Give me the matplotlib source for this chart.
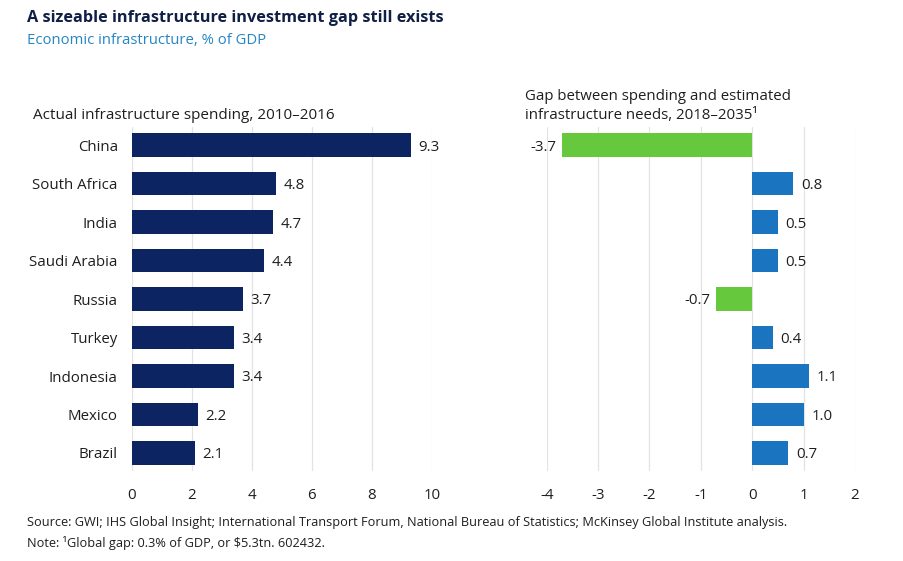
import matplotlib.pyplot as plt

countries = ["China", "South Africa", "India", "Saudi Arabia", "Russia",
             "Turkey", "Indonesia", "Mexico", "Brazil"]
spending = [9.3, 4.8, 4.7, 4.4, 3.7, 3.4, 3.4, 2.2, 2.1]
gap = [-3.7, 0.8, 0.5, 0.5, -0.7, 0.4, 1.1, 1.0, 0.7]

navy = "#0c2461"
blue = "#1a74bf"
green = "#66c83c"
grid_col = "#e3e3e3"
txt = "#1e1e1e"

plt.rcParams["font.family"] = ["Open Sans", "DejaVu Sans"]
plt.rcParams["axes.unicode_minus"] = False

fig = plt.figure(figsize=(9.04, 5.61), dpi=100)
ax1 = fig.add_axes([0.1457, 0.1604, 0.3319, 0.613])
ax2 = fig.add_axes([0.6048, 0.1604, 0.341, 0.613])

pos = list(range(len(countries)))

# left panel
ax1.barh(pos, spending, height=0.61, color=navy, zorder=3)
for p, v in zip(pos, spending):
    ax1.text(v + 0.25, p + 0.05, "%.1f" % v, va="center", ha="left", fontsize=10.8, color=txt)
ax1.set_xlim(0, 10)
ax1.set_xticks(range(0, 11, 2))
ax1.set_yticks(pos)
ax1.set_yticklabels(countries)

# right panel
cols = [green if v < 0 else blue for v in gap]
ax2.barh(pos, gap, height=0.61, color=cols, zorder=3)
for p, v in zip(pos, gap):
    if v < 0:
        ax2.text(v - 0.12, p + 0.05, "%.1f" % v, va="center", ha="right", fontsize=10.8, color=txt)
    else:
        ax2.text(v + 0.15, p + 0.05, "%.1f" % v, va="center", ha="left", fontsize=10.8, color=txt)
ax2.set_xlim(-4, 2)
ax2.set_xticks(range(-4, 3))
ax2.set_yticks([])

for ax in (ax1, ax2):
    ax.set_ylim(8.47, -0.47)
    for s in ax.spines.values():
        s.set_visible(False)
    ax.grid(axis="x", color=grid_col, linewidth=0.9, zorder=0)
    ax.tick_params(axis="x", length=0, pad=12, labelsize=10.8, labelcolor=txt)
    ax.tick_params(axis="y", length=0, pad=10, labelsize=10.8, labelcolor=txt)

fig.text(0.030, 0.968, "A sizeable infrastructure investment gap still exists",
         fontsize=11.7, fontweight="bold", color="#0f1f45", va="center", ha="left")
fig.text(0.030, 0.928, "Economic infrastructure, % of GDP",
         fontsize=10.7, color="#2585c2", va="center", ha="left")
fig.text(0.037, 0.795, "Actual infrastructure spending, 2010\u20132016",
         fontsize=11, color=txt, va="center", ha="left")
fig.text(0.581, 0.811, "Gap between spending and estimated\ninfrastructure needs, 2018\u20132035\u00b9",
         fontsize=10.8, color=txt, va="center", ha="left", linespacing=1.3)

fig.text(0.030, 0.068, "Source: GWI; IHS Global Insight; International Transport Forum, National Bureau of Statistics; McKinsey Global Institute analysis.",
         fontsize=9.2, color=txt, va="center", ha="left")
fig.text(0.030, 0.032, "Note: \u00b9Global gap: 0.3% of GDP, or $5.3tn. 602432.",
         fontsize=9.2, color=txt, va="center", ha="left")

fig.savefig("out.png", dpi=100)
